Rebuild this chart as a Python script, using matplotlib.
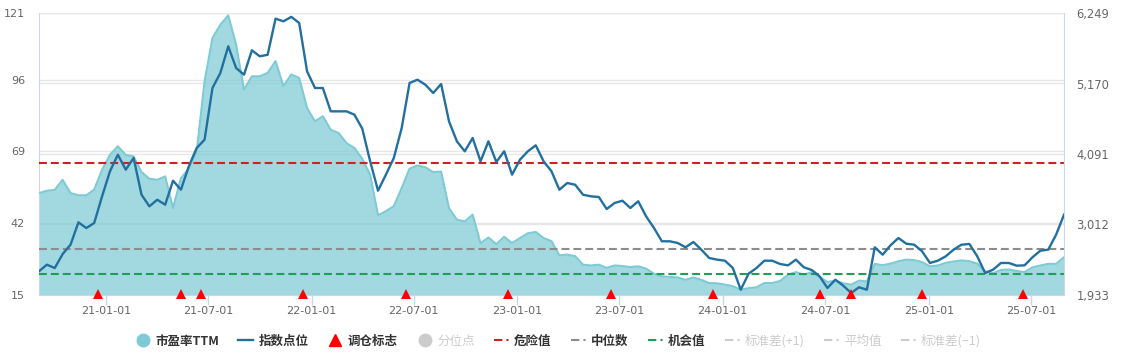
import matplotlib
matplotlib.use("Agg")
import matplotlib.pyplot as plt
import matplotlib.dates as mdates
from matplotlib.lines import Line2D
from matplotlib.ticker import FuncFormatter
from matplotlib.font_manager import FontProperties
import pandas as pd

plt.rcParams['font.family'] = ['DejaVu Sans']

# ---------------- data ----------------
start_date = "2020-09-04"
n_points = 131
dates = pd.date_range(start_date, periods=n_points, freq="14D")

pe_ttm = [
    53.3, 54.2, 54.5, 58.3, 53.3, 52.5, 52.5, 54.6, 62.1, 67.7,
    70.9, 67.7, 67.1, 61.2, 58.7, 58.3, 59.6, 47.7, 58.9, 62.5,
    69.0, 95.3, 111.6, 116.6, 120.1, 109.1, 92.2, 97.2, 97.2, 98.5,
    102.9, 93.5, 97.9, 96.6, 85.3, 80.3, 82.2, 77.1, 75.9, 72.1,
    70.3, 66.2, 60.2, 45.0, 46.5, 48.4, 55.2, 62.5, 63.7, 63.0,
    61.2, 61.4, 47.7, 43.3, 42.7, 45.2, 34.5, 36.6, 34.1, 36.9,
    34.5, 36.4, 38.2, 38.7, 36.4, 35.2, 29.9, 30.2, 29.6, 26.4,
    26.1, 26.4, 25.2, 26.1, 25.9, 25.5, 25.8, 24.9, 23.0, 22.0,
    21.8, 21.6, 20.7, 21.6, 20.7, 19.5, 19.4, 18.9, 18.3, 17.0,
    17.6, 17.9, 19.5, 19.5, 20.3, 22.6, 23.6, 22.6, 23.6, 21.9,
    19.9, 20.4, 19.4, 18.9, 20.4, 20.1, 26.7, 26.2, 26.8, 27.7,
    28.3, 28.1, 27.4, 25.8, 26.1, 27.1, 27.6, 28.0, 27.7, 26.8,
    23.9, 23.2, 24.4, 24.6, 24.0, 23.6, 25.4, 26.1, 26.7, 26.7,
    29.2,
]

index_points = [
    2296, 2397, 2346, 2560, 2703, 3045, 2958, 3035, 3443, 3826,
    4080, 3851, 4030, 3468, 3290, 3391, 3315, 3682, 3545, 3902,
    4183, 4310, 5101, 5331, 5739, 5407, 5305, 5678, 5586, 5610,
    6162, 6122, 6190, 6096, 5356, 5101, 5101, 4744, 4744, 4744,
    4693, 4479, 3979, 3530, 3775, 4030, 4489, 5178, 5228, 5152,
    5025, 5162, 4592, 4285, 4132, 4336, 3979, 4285, 3969, 4132,
    3775, 4004, 4132, 4224, 3979, 3826, 3545, 3647, 3621, 3468,
    3443, 3433, 3249, 3341, 3376, 3265, 3367, 3137, 2958, 2755,
    2755, 2729, 2663, 2744, 2627, 2499, 2474, 2458, 2346, 2014,
    2259, 2346, 2458, 2458, 2407, 2387, 2474, 2357, 2316, 2219,
    2040, 2167, 2076, 1964, 2051, 2014, 2663, 2550, 2694, 2805,
    2718, 2703, 2602, 2423, 2458, 2525, 2627, 2703, 2714, 2525,
    2270, 2320, 2423, 2423, 2382, 2387, 2510, 2611, 2627, 2856,
    3162,
]

rebalance_dates = pd.to_datetime([
    "2020-12-17", "2021-05-14", "2021-06-18", "2021-12-17", "2022-06-17",
    "2022-12-15", "2023-06-16", "2023-12-14", "2024-06-21", "2024-08-15",
    "2024-12-19", "2025-06-18",
])

danger_value = 64.7
median_value = 32.2
chance_value = 22.8

left_ticks = [15, 42, 69, 96, 121]
right_ticks = [1933, 3012, 4091, 5170, 6249]

legend_labels = ["市盈率TTM", "指数点位", "调仓标志", "分位点", "危险值",
                 "中位数", "机会值", "标准差(+1)", "平均值", "标准差(−1)"]

# ---------------- styles ----------------
PE_COLOR = "#7ecbd5"
IDX_COLOR = "#22709f"
RED = "#cc2222"
GRAY = "#8c8c8c"
GREEN = "#1f9e57"
OFF = "#cccccc"
AXIS_C = "#ccd6eb"
GRID_C = "#e6e6e6"
DASH = (3.8, 1.9)

fig = plt.figure(figsize=(11.45, 3.6), dpi=100)
ax = fig.add_axes([39 / 1145, 65 / 360, 1025 / 1145, 282 / 360])
ax2 = ax.twinx()

ax.set_xlim(dates[0], dates[-1])
ax.set_ylim(left_ticks[0], left_ticks[-1])
ax2.set_ylim(right_ticks[0], right_ticks[-1])

# grid lines of both axes, drawn beneath the area
ax.grid(False)
ax2.grid(False)
for v in left_ticks:
    ax.axhline(v, color=GRID_C, lw=1, zorder=0.5)
lo, hi = left_ticks[0], left_ticks[-1]
for v in right_ticks:
    ax.axhline(lo + (v - right_ticks[0]) / (right_ticks[-1] - right_ticks[0]) * (hi - lo),
               color=GRID_C, lw=1, zorder=0.5)

ax.fill_between(dates, pe_ttm, left_ticks[0], color=PE_COLOR, alpha=0.72, lw=0, zorder=2)
ax.plot(dates, pe_ttm, color=PE_COLOR, lw=1.5, zorder=3)

ax.axhline(danger_value, color=RED, lw=1.5, dashes=DASH, zorder=4)
ax.axhline(median_value, color=GRAY, lw=1.5, dashes=DASH, zorder=4)
ax.axhline(chance_value, color=GREEN, lw=1.5, dashes=DASH, zorder=4)

ax2.plot(dates, index_points, color=IDX_COLOR, lw=1.7, zorder=5)
ax2.plot(rebalance_dates, [0.005] * len(rebalance_dates), transform=ax2.get_xaxis_transform(),
         ls="none", marker="^", ms=6.5, color="#ff0000", mew=0, clip_on=False, zorder=6)

ax.set_yticks(left_ticks)
ax2.set_yticks(right_ticks)
ax2.yaxis.set_major_formatter(FuncFormatter(lambda v, p: f"{int(round(v)):,}"))

ax.xaxis.set_major_locator(mdates.MonthLocator(bymonth=[1, 7]))
ax.xaxis.set_major_formatter(mdates.DateFormatter("%y-%m-%d"))

ax.tick_params(axis="x", length=7, width=1, color=AXIS_C, pad=1, labelsize=8, labelcolor="#666666")
ax.tick_params(axis="y", length=0, pad=10, labelsize=8, labelcolor="#666666")
ax2.tick_params(axis="y", length=0, pad=9, labelsize=8.3, labelcolor="#666666")

for s in ["top", "right"]:
    ax.spines[s].set_visible(False)
for s in ["top", "left", "bottom"]:
    ax2.spines[s].set_visible(False)
ax.spines["left"].set_color(AXIS_C)
ax.spines["bottom"].set_color(AXIS_C)
ax2.spines["right"].set_color(AXIS_C)

# ---------------- legend ----------------
lt = (4, 2, 1, 2)
handles = [
    Line2D([], [], ls="none", marker="o", ms=9, color=PE_COLOR),
    Line2D([], [], color=IDX_COLOR, lw=1.7),
    Line2D([], [], ls="none", marker="^", ms=8, color="#ff0000"),
    Line2D([], [], ls="none", marker="o", ms=9, color=OFF),
    Line2D([], [], color=RED, lw=1.5, dashes=lt),
    Line2D([], [], color=GRAY, lw=1.5, dashes=lt),
    Line2D([], [], color=GREEN, lw=1.5, dashes=lt),
    Line2D([], [], color=OFF, lw=1.5, dashes=lt),
    Line2D([], [], color=OFF, lw=1.5, dashes=lt),
    Line2D([], [], color=OFF, lw=1.5, dashes=lt),
]
text_colors = ["#333333", "#333333", "#333333", OFF, "#333333",
               "#333333", "#333333", OFF, OFF, OFF]
leg = fig.legend(handles, legend_labels, loc="center", bbox_to_anchor=(558 / 1145, 19 / 360),
                 ncol=10, frameon=False, handlelength=1.2, handletextpad=0.4,
                 columnspacing=1.55,
                 prop=FontProperties(family=["Noto Sans CJK SC", "DejaVu Sans"], size=9, weight="bold"))
for t, c in zip(leg.get_texts(), text_colors):
    t.set_color(c)
    if c == OFF:
        t.set_fontweight("normal")

fig.savefig("out.png", dpi=100)
